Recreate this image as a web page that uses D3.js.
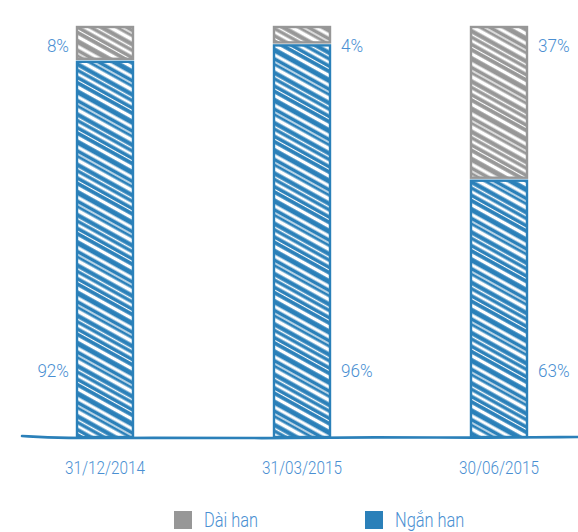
<!DOCTYPE html>
<html><head><meta charset="utf-8">
<script src="https://cdn.jsdelivr.net/npm/d3@7"></script>
<style>
html,body{margin:0;padding:0;background:#fff;}
svg{display:block;}
text{font-family:Roboto,"Liberation Sans Narrow",sans-serif;font-weight:300;}
</style></head>
<body>
<script>
const categories = ["31/12/2014", "31/03/2015", "30/06/2015"];
const nganHan = [92, 96, 63];
const daiHan = [8, 4, 37];
const seriesNames = ["Dài han", "Ngắn han"];
const labelSide = ["left", "right", "right"];

const W = 578, H = 532;
const blue = "#2b80b9", gray = "#979797", txt = "#4a8fd2";
const svg = d3.select("body").append("svg").attr("width", W).attr("height", H);

const x = d3.scalePoint().domain(categories).range([105, 499]);
const y = d3.scaleLinear().domain([0, 100]).range([437, 27]);
const bw = 56;

// hatch patterns
const defs = svg.append("defs");
function hatch(id, color) {
  const p = defs.append("pattern").attr("id", id).attr("patternUnits", "userSpaceOnUse")
    .attr("width", 80).attr("height", 44).attr("patternTransform", "rotate(29)");
  p.append("rect").attr("width", 80).attr("height", 44).attr("fill", color);
  const stripes = [[3, 3.2], [9, 1.3], [14.5, 3.8], [21.5, 1.5], [27, 2.8], [32.5, 1.1], [38.5, 3.4]];
  stripes.forEach(([yy, w]) => {
    p.append("rect").attr("x", 0).attr("width", 80)
      .attr("y", yy - w / 2).attr("height", w).attr("fill", "#fff");
  });
}
hatch("hBlue", blue);
hatch("hGray", gray);

function label(sel, tx, ty, anchor, size, sx, s) {
  sel.append("text").attr("transform", `translate(${tx},${ty}) scale(${sx},1)`)
    .attr("text-anchor", anchor).attr("font-size", size).attr("fill", txt).text(s);
}

const g = svg.append("g");
categories.forEach((c, i) => {
  const x0 = x(c) - bw / 2;
  g.append("rect").attr("x", x0).attr("y", y(nganHan[i]) + 2).attr("width", bw)
    .attr("height", y(0) - y(nganHan[i]) - 2)
    .attr("fill", "url(#hBlue)").attr("stroke", blue).attr("stroke-width", 2.4);
  g.append("rect").attr("x", x0).attr("y", y(100)).attr("width", bw)
    .attr("height", y(nganHan[i]) - y(100) - 1)
    .attr("fill", "url(#hGray)").attr("stroke", gray).attr("stroke-width", 2.4);
  const right = labelSide[i] === "right";
  const lx = right ? x0 + bw + 11 : x0 - 8;
  const anchor = right ? "start" : "end";
  label(g, lx, 52, anchor, 19, 0.9, daiHan[i] + "%");
  label(g, lx, 377, anchor, 19, 0.9, nganHan[i] + "%");
  label(g, x(c), 474, "middle", 18, 0.85, c);
});

// sketchy baseline
const basePts = [[22, 436], [60, 438.5], [150, 437.5], [260, 438.5], [380, 437], [470, 438], [578, 437]];
svg.append("path").attr("d", d3.line().curve(d3.curveBasis)(basePts))
  .attr("fill", "none").attr("stroke", blue).attr("stroke-width", 2.6).attr("stroke-linecap", "round");

// legend
const leg = svg.append("g");
const legX = [174, 365];
const legC = [gray, blue];
seriesNames.forEach((n, i) => {
  leg.append("rect").attr("x", legX[i]).attr("y", 511).attr("width", 18).attr("height", 18)
    .attr("fill", legC[i]);
  label(leg, legX[i] + 30, 527, "start", 20, 0.82, n);
});
</script>
</body></html>
